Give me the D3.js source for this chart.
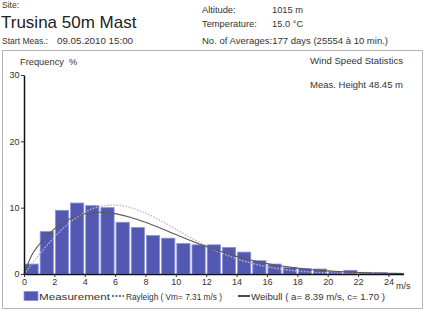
<!DOCTYPE html>
<html><head><meta charset="utf-8">
<script src="https://cdn.jsdelivr.net/npm/d3@7"></script>
<style>
html,body{margin:0;padding:0;background:#fff;}
svg{display:block;font-family:"Liberation Sans",Arial,sans-serif;}
</style></head>
<body>
<svg id="c" width="427" height="311"></svg>
<script>
// ---- data ----
const binStarts = d3.range(0, 25); // 1 m/s bins
const measurement = [1.5, 6.4, 9.6, 10.7, 10.3, 10.0, 7.8, 7.0, 5.8, 5.4, 4.6, 4.4, 4.4, 4.0, 3.3, 2.0, 1.5, 1.0, 0.8, 0.75, 0.35, 0.55, 0.25, 0.2, 0.1];
const curveSpeeds = [0, 0.5, 1, 2, 3, 4, 5, 6, 7, 8, 9, 10, 11, 12, 13, 14, 15, 16, 17, 18, 19, 20, 21, 22, 23, 24, 25];
const rayleigh = [0, 1.46, 2.90, 5.54, 7.73, 9.29, 10.18, 10.39, 10.01, 9.18, 8.04, 6.76, 5.46, 4.25, 3.19, 2.31, 1.62, 1.09, 0.71, 0.45, 0.28, 0.16, 0.10, 0.05, 0.02, 0.01, 0.0];
const weibull = [0, 2.79, 4.45, 6.81, 8.29, 9.08, 9.31, 9.10, 8.56, 7.79, 6.90, 5.95, 5.02, 4.14, 3.35, 2.66, 2.08, 1.59, 1.20, 0.89, 0.65, 0.47, 0.33, 0.23, 0.16, 0.11, 0.07];
const yTicks = [0, 10, 20, 30];
const xTicks = [0, 2, 4, 6, 8, 10, 12, 14, 16, 18, 20, 22, 24];
const headerLeft = {site: "Site:", name: "Trusina 50m Mast", startLabel: "Start Meas.:", startValue: "09.05.2010 15:00"};
const headerRight = [["Altitude:", "1015 m"], ["Temperature:", "15.0 °C"], ["No. of Averages:", "177 days (25554 à 10 min.)"]];
const legendLabels = ["Measurement", "Rayleigh ( Vm= 7.31 m/s )", "Weibull ( a= 8.39 m/s, c= 1.70 )"];

// ---- drawing ----
const svg = d3.select("#c");
const txt = "#333";
const barColor = "#5358b2";
const fs = 9.3;

function t(xp, yp, s, size, opts = {}) {
  const el = svg.append("text").attr("x", xp).attr("y", yp).attr("font-size", size)
    .attr("fill", opts.fill || txt).text(s);
  if (opts.anchor) el.attr("text-anchor", opts.anchor);
  if (opts.len) el.attr("textLength", opts.len).attr("lengthAdjust", "spacingAndGlyphs");
  return el;
}

// header
t(2, 8, headerLeft.site, 8.5);
t(1, 28, headerLeft.name, 17, {fill: "#222"});
t(2, 44, headerLeft.startLabel, fs, {len: 46});
t(57, 44, headerLeft.startValue, fs, {len: 76});
const hy = [13, 27, 44];
headerRight.forEach((r, i) => {
  if (i < 2) {
    t(202, hy[i], r[0], fs);
    t(272, hy[i], r[1], fs);
  } else {
    t(202, hy[i], r[0] + r[1], fs, {len: 186});
  }
});

// frame
svg.append("rect").attr("x", 2.5).attr("y", 50.5).attr("width", 420).attr("height", 258)
  .attr("fill", "none").attr("stroke", "#b5b5b5").attr("stroke-width", 1);

t(20, 65, "Frequency\u00a0\u00a0%", fs);
t(403, 64, "Wind Speed Statistics", fs, {anchor: "end", len: 93});
t(403, 88, "Meas. Height 48.45 m", fs, {anchor: "end", len: 93});

const x = d3.scaleLinear().domain([0, 25]).range([24, 403.6]);
const y = d3.scaleLinear().domain([0, 30]).range([274, 75]);

// bars
svg.append("g").selectAll("rect").data(measurement).join("rect")
  .attr("x", (d, i) => x(binStarts[i]) + 1)
  .attr("width", (d, i) => x(binStarts[i] + 1) - x(binStarts[i]) - 2)
  .attr("y", d => y(d))
  .attr("height", d => y(0) - y(d))
  .attr("fill", barColor)
  .attr("stroke", "#8d92dc").attr("stroke-width", 0.8);

// curves
const line = (vals) => d3.line().x((d, i) => x(curveSpeeds[i])).y(d => y(d)).curve(d3.curveMonotoneX)(vals);
svg.append("path").attr("d", line(rayleigh)).attr("fill", "none")
  .attr("stroke", "#b8b8cc").attr("stroke-width", 1.4).attr("stroke-dasharray", "1.5,1.5");
svg.append("path").attr("d", line(weibull)).attr("fill", "none")
  .attr("stroke", "#5a5a5a").attr("stroke-width", 1.1);

// axes
const ya = svg.append("g").attr("transform", "translate(24,0)")
  .call(d3.axisLeft(y).tickValues(yTicks).tickSize(3).tickSizeOuter(0));
ya.select(".domain").attr("stroke", "#111").attr("stroke-width", 1.5);
ya.selectAll(".tick line").attr("stroke", "#333");
ya.selectAll(".tick text").attr("font-size", 9).attr("fill", txt).attr("font-family", "Liberation Sans, Arial, sans-serif").attr("dx", 1.5);

const xa = svg.append("g").attr("transform", "translate(0,274)")
  .call(d3.axisBottom(x).tickValues(xTicks).tickSize(3).tickSizeOuter(0));
xa.select(".domain").attr("stroke", "#111").attr("stroke-width", 1.5);
xa.selectAll(".tick line").attr("stroke", "#333");
xa.selectAll(".tick text").attr("font-size", 9).attr("fill", txt).attr("font-family", "Liberation Sans, Arial, sans-serif").attr("dy", "0.5em");
t(396, 289, "m/s", 9);

// legend
const ly = 296;
svg.append("rect").attr("x", 24).attr("y", ly - 4.5).attr("width", 14).attr("height", 9).attr("fill", barColor).attr("stroke", "#8d92dc").attr("stroke-width", 0.8);
t(39, ly + 3.5, legendLabels[0], 9.5, {len: 71});
svg.append("line").attr("x1", 112).attr("x2", 124).attr("y1", ly).attr("y2", ly)
  .attr("stroke", "#444").attr("stroke-width", 1.3).attr("stroke-dasharray", "2,1.5");
t(126, ly + 3.5, legendLabels[1], 9.5, {len: 96});
svg.append("line").attr("x1", 238).attr("x2", 250).attr("y1", ly).attr("y2", ly)
  .attr("stroke", "#111").attr("stroke-width", 1.5);
t(251, ly + 3.5, legendLabels[2], 9.5, {len: 134});
</script>
</body></html>
